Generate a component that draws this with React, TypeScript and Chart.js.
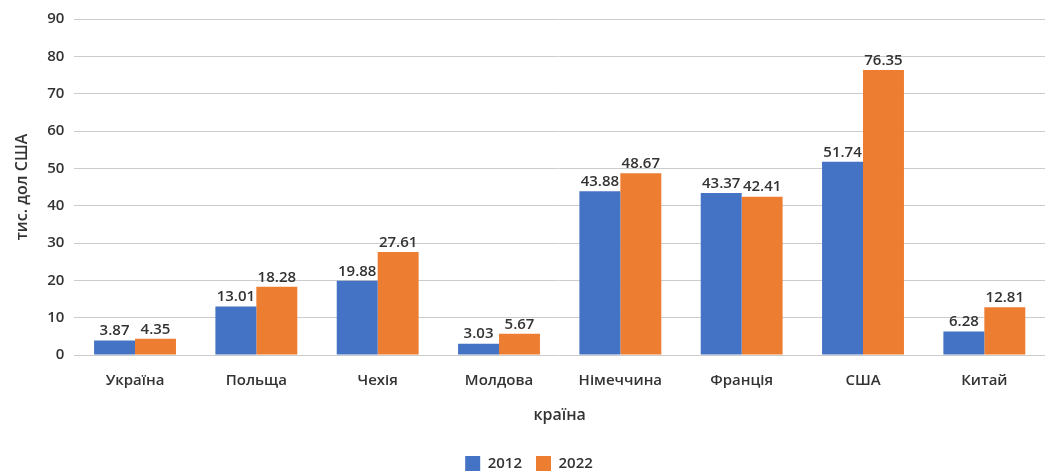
import React, { useEffect, useRef } from "react";
import { Chart, registerables } from "chart.js";

Chart.register(...registerables);

const categories = ["Україна", "Польща", "Чехія", "Молдова", "Німеччина", "Франція", "США", "Китай"];
const values2012 = [3.87, 13.01, 19.88, 3.03, 43.88, 43.37, 51.74, 6.28];
const values2022 = [4.35, 18.28, 27.61, 5.67, 48.67, 42.41, 76.35, 12.81];
const seriesNames = ["2012", "2022"];
const yTitle = "тис. дол США";
const xTitle = "країна";

const FONT = "'Open Sans', 'Noto Sans', sans-serif";

const valueLabels = {
  id: "valueLabels",
  afterDatasetsDraw(chart: any) {
    const ctx = chart.ctx;
    ctx.save();
    ctx.font = `600 15px ${FONT}`;
    ctx.fillStyle = "#333333";
    ctx.textAlign = "center";
    ctx.textBaseline = "bottom";
    chart.data.datasets.forEach((ds: any, i: number) => {
      const meta = chart.getDatasetMeta(i);
      meta.data.forEach((bar: any, j: number) => {
        ctx.fillText(ds.data[j].toFixed(2), bar.x, bar.y - 2);
      });
    });
    ctx.restore();
  },
};

export default function App() {
  const ref = useRef<HTMLCanvasElement>(null);
  useEffect(() => {
    if (!ref.current) return;
    const chart = new Chart(ref.current, {
      type: "bar",
      data: {
        labels: categories,
        datasets: [
          { label: seriesNames[0], data: values2012, backgroundColor: "#4472C4", categoryPercentage: 0.675, barPercentage: 1 },
          { label: seriesNames[1], data: values2022, backgroundColor: "#ED7D31", categoryPercentage: 0.675, barPercentage: 1 },
        ],
      },
      options: {
        animation: false,
        responsive: true,
        maintainAspectRatio: false,
        layout: { padding: { top: 12, right: 8, left: 13, bottom: 0 } },
        plugins: {
          legend: {
            position: "bottom",
            labels: {
              boxWidth: 15,
              boxHeight: 15,
              font: { family: FONT, size: 15, weight: "600" },
              color: "#333333",
              padding: 14,
            },
          },
          tooltip: { enabled: false },
        },
        scales: {
          x: {
            grid: { display: false, drawTicks: false },
            border: { display: false },
            ticks: { font: { family: FONT, size: 15, weight: "600", lineHeight: 0.8 }, color: "#333333", padding: 20 },
            title: { display: true, text: xTitle, font: { family: FONT, size: 16, weight: "600", lineHeight: 1 }, color: "#333333", padding: { top: 0, bottom: 19 } },
          },
          y: {
            min: 0,
            max: 90,
            ticks: { stepSize: 10, font: { family: FONT, size: 15, weight: "600" }, color: "#333333", padding: 10 },
            grid: { color: "#cccccc", drawTicks: false },
            border: { display: false },
            title: { display: true, text: yTitle, font: { family: FONT, size: 16, weight: "600" }, color: "#333333", padding: { top: 0, bottom: 5 } },
          },
        },
      },
      plugins: [valueLabels],
    });
    return () => chart.destroy();
  }, []);
  return (
    <div style={{ position: "fixed", left: 0, top: 0, width: 1053, height: 481, background: "#fff" }}>
      <canvas ref={ref} />
    </div>
  );
}
